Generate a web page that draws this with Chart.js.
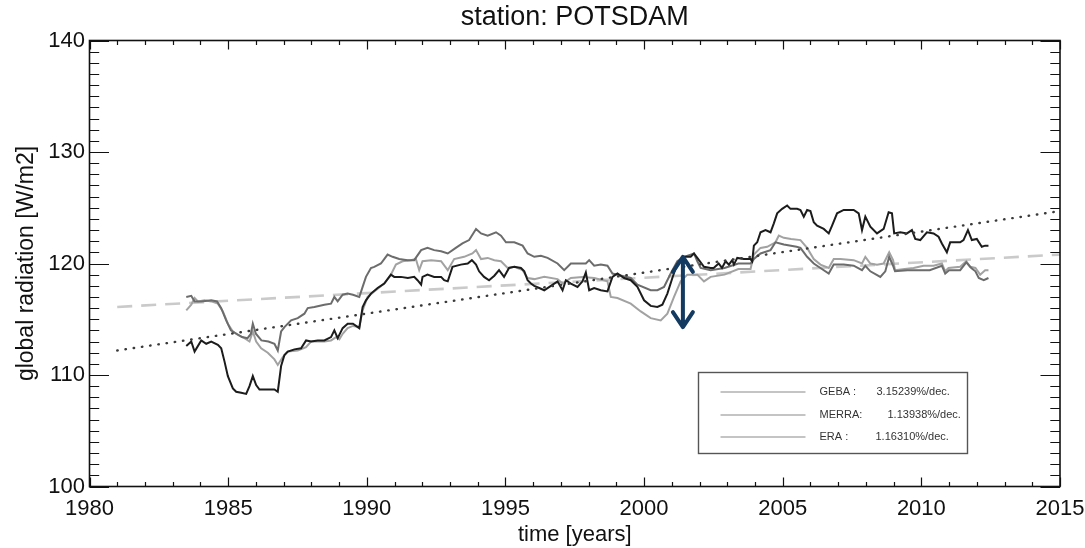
<!DOCTYPE html>
<html>
<head>
<meta charset="utf-8">
<script src="https://cdn.jsdelivr.net/npm/chart.js@4.4.1/dist/chart.umd.min.js"></script>
<style>
html,body{margin:0;padding:0;background:#fff;}
#wrap{width:1085px;height:548px;}
</style>
</head>
<body>
<div id="wrap"><canvas id="c" width="1085" height="548"></canvas></div>
<script>
// ---------------- DATA ----------------
const gebaYears = [1983.49,1983.67,1983.79,1984.03,1984.21,1984.39,1984.63,1984.75,1984.87,1984.99,1985.17,1985.29,1985.47,1985.65,1985.77,1985.89,1986.01,1986.13,1986.37,1986.67,1986.79,1986.91,1987.03,1987.15,1987.39,1987.63,1987.81,1987.99,1988.23,1988.47,1988.71,1988.83,1988.95,1989.13,1989.31,1989.5,1989.73,1989.85,1989.97,1990.15,1990.39,1990.63,1990.87,1990.99,1991.23,1991.48,1991.71,1991.83,1991.96,1992.01,1992.19,1992.43,1992.68,1992.79,1992.92,1993.09,1993.39,1993.64,1993.79,1993.94,1994.05,1994.23,1994.41,1994.6,1994.77,1994.95,1995.13,1995.32,1995.56,1995.68,1995.8,1995.92,1996.04,1996.22,1996.4,1996.64,1996.88,1997.06,1997.18,1997.36,1997.6,1997.78,1997.9,1998.02,1998.2,1998.44,1998.68,1998.86,1999.04,1999.28,1999.52,1999.76,2000.0,2000.24,2000.48,2000.66,2000.84,2001.02,2001.2,2001.44,2001.68,2001.8,2001.92,2002.16,2002.4,2002.51,2002.69,2002.81,2002.94,2003.06,2003.18,2003.24,2003.36,2003.6,2003.84,2003.9,2003.96,2004.08,2004.2,2004.38,2004.56,2004.68,2004.8,2004.98,2005.16,2005.28,2005.52,2005.64,2005.76,2005.88,2006.0,2006.12,2006.24,2006.48,2006.66,2006.78,2006.96,2007.2,2007.56,2007.74,2007.86,2007.98,2008.16,2008.4,2008.64,2008.82,2008.94,2009.02,2009.24,2009.48,2009.66,2009.78,2009.96,2010.2,2010.44,2010.62,2010.74,2010.92,2011.04,2011.4,2011.52,2011.68,2011.82,2012.0,2012.18,2012.3,2012.42];
const gebaValues = [112.6,113.0,112.1,113.1,112.8,113.0,112.7,112.4,111.2,109.9,108.8,108.5,108.4,108.3,109.0,109.9,109.1,108.7,108.7,108.7,108.5,110.8,111.8,112.1,112.3,112.4,113.1,113.0,113.1,113.1,113.4,114.0,113.3,114.2,114.6,114.6,114.2,116.1,116.7,117.3,117.8,118.2,119.0,118.8,118.8,118.7,118.8,118.5,118.1,118.8,119.0,118.8,118.8,118.5,118.4,119.7,119.9,120.0,120.3,119.9,119.3,118.8,118.5,118.9,119.4,118.8,119.6,119.7,119.6,119.3,118.5,118.2,118.0,117.8,117.6,118.0,118.4,117.6,118.5,118.2,117.9,118.4,119.2,117.6,117.8,117.6,117.5,118.8,119.1,118.7,118.5,117.9,116.7,116.2,116.1,116.3,117.3,118.7,120.0,120.6,120.6,120.9,120.5,119.7,119.6,119.6,120.0,119.6,120.2,119.9,120.3,119.9,120.5,120.4,120.4,120.2,121.6,121.9,122.8,123.0,122.8,123.6,124.5,124.9,125.2,124.9,124.9,124.8,124.2,124.8,124.7,123.7,123.4,123.1,122.7,123.4,124.5,124.8,124.8,124.5,123.0,124.2,123.3,122.7,123.1,124.6,124.5,122.7,122.8,122.7,123.0,122.2,122.1,122.8,122.7,122.4,121.8,121.0,121.9,121.9,122.1,123.0,122.1,122.2,121.5,121.6,121.6];

const merraYears = [1983.49,1983.67,1983.79,1984.03,1984.39,1984.6,1984.75,1984.93,1985.1,1985.3,1985.5,1985.7,1985.82,1985.89,1986.0,1986.2,1986.45,1986.67,1986.79,1986.91,1987.03,1987.27,1987.51,1987.75,1987.87,1988.11,1988.47,1988.71,1988.83,1988.95,1989.13,1989.31,1989.5,1989.73,1989.85,1989.97,1990.15,1990.27,1990.51,1990.75,1990.93,1991.17,1991.47,1991.71,1991.96,1992.19,1992.43,1992.68,1992.92,1993.21,1993.45,1993.69,1993.94,1994.12,1994.36,1994.66,1994.84,1995.02,1995.32,1995.62,1995.8,1996.04,1996.28,1996.52,1996.88,1997.12,1997.36,1997.6,1997.9,1998.02,1998.2,1998.44,1998.68,1998.86,1999.04,1999.52,1999.76,2000.24,2000.48,2000.72,2000.96,2001.2,2001.44,2001.68,2001.8,2001.92,2002.04,2002.4,2002.9,2003.4,2003.84,2003.96,2004.2,2004.56,2004.74,2005.04,2005.5,2005.64,2005.88,2006.12,2006.36,2006.66,2006.84,2007.2,2007.56,2007.86,2007.98,2008.16,2008.52,2008.7,2008.84,2008.98,2009.05,2009.5,2009.9,2010.3,2010.74,2010.86,2011.0,2011.4,2011.62,2011.8,2011.95,2012.07,2012.25,2012.42];
const merraValues = [117.0,117.1,116.6,116.6,116.7,116.6,116.0,114.9,114.0,113.7,113.4,113.3,113.7,114.6,113.7,113.1,113.0,112.8,112.2,113.9,114.3,114.9,115.1,115.5,116.0,116.1,116.3,116.4,117.0,116.6,117.2,117.3,117.2,117.0,117.9,118.8,119.6,119.7,120.0,120.8,120.6,120.4,120.3,120.3,121.2,121.4,121.2,121.1,120.9,121.4,121.8,122.1,123.1,122.7,122.5,122.8,122.5,121.9,121.9,121.6,120.9,120.6,120.7,120.5,120.0,119.4,120.0,120.0,120.0,120.3,119.8,119.9,119.8,119.1,119.0,118.7,118.1,117.6,117.6,117.9,119.1,120.2,120.6,120.8,120.9,120.2,119.6,119.4,119.6,120.0,120.0,120.4,120.9,121.2,121.9,121.7,121.5,121.4,120.6,120.0,119.6,119.1,119.9,119.9,119.8,119.4,119.8,119.3,118.8,119.3,120.6,119.8,119.3,119.4,119.4,119.4,119.8,119.1,119.4,119.4,120.1,119.6,119.3,118.7,118.5,118.7];

const eraYears = [1983.49,1983.67,1983.79,1983.91,1984.15,1984.39,1984.63,1984.81,1984.99,1985.17,1985.35,1985.59,1985.77,1985.89,1986.01,1986.19,1986.43,1986.67,1986.79,1986.97,1987.15,1987.51,1987.81,1987.99,1988.47,1988.71,1988.89,1989.01,1989.13,1989.31,1989.5,1989.73,1989.85,1990.03,1990.27,1990.63,1990.87,1991.05,1991.29,1991.59,1991.77,1991.89,1992.01,1992.32,1992.68,1992.92,1993.15,1993.51,1993.81,1993.94,1994.12,1994.36,1994.6,1994.84,1995.08,1995.32,1995.62,1995.8,1996.04,1996.4,1996.88,1997.06,1997.36,1997.78,1998.2,1998.68,1998.8,1999.04,1999.52,1999.88,2000.24,2000.6,2000.84,2001.08,2001.32,2001.56,2001.92,2002.16,2002.4,2002.9,2003.4,2003.84,2003.96,2004.2,2004.44,2004.74,2004.86,2005.04,2005.3,2005.64,2005.88,2006.12,2006.36,2006.66,2006.84,2007.08,2007.56,2007.86,2007.98,2008.16,2008.4,2008.64,2008.84,2008.98,2009.05,2009.4,2009.72,2010.08,2010.44,2010.74,2010.86,2010.98,2011.4,2011.62,2011.76,2011.95,2012.12,2012.3,2012.42];
const eraValues = [115.8,116.3,116.9,116.6,116.7,116.6,116.4,115.7,114.6,113.9,113.6,113.3,113.0,113.9,113.0,112.4,112.0,111.4,110.9,111.6,112.1,112.2,112.5,113.0,113.0,113.1,113.4,113.2,113.7,114.2,114.4,114.3,115.8,117.0,117.5,118.2,119.0,119.9,120.2,120.3,120.4,119.4,120.2,120.3,120.2,119.4,120.4,120.6,120.9,121.2,120.4,120.5,120.3,120.2,119.6,119.7,119.4,118.7,118.6,118.8,118.6,118.2,118.7,118.8,118.7,118.4,117.0,116.9,116.4,115.7,115.1,114.9,115.5,117.0,118.4,119.0,119.0,118.4,118.8,119.0,119.5,119.5,120.8,121.4,121.5,121.9,122.5,122.3,122.2,122.1,121.4,120.4,119.9,119.6,120.4,120.4,120.3,120.0,120.6,120.0,119.9,120.0,121.0,120.3,119.4,119.5,119.6,119.8,119.8,120.0,119.3,119.6,119.7,120.2,119.7,119.6,119.0,119.4,119.4];

const trendYears = [1981, 2015];
const gebaTrend = [112.2, 124.7];
const reanalysisTrend = [116.1, 120.8];

const legendNames = ['GEBA :', 'MERRA:', 'ERA :'];
const legendRates = ['3.15239%/dec.', '1.13938%/dec.', '1.16310%/dec.'];

const arrowYear = 2001.4;
const arrowTop = 120.6;
const arrowBottom = 114.3;

// ---------------- RENDER ----------------
const FONT = '"Liberation Sans", Arial, Helvetica, sans-serif';
const pts = (xs, ys) => xs.map((x, i) => ({x: x, y: ys[i]}));

const framePlugin = {
  id: 'frame',
  afterDraw(chart) {
    const {ctx, chartArea: a, scales: {x, y}} = chart;
    ctx.save();
    ctx.strokeStyle = '#111';
    ctx.lineWidth = 1.2;
    ctx.beginPath();
    for (let v = 1980; v <= 2015; v++) {
      const px = Math.round(x.getPixelForValue(v)) + 0.5;
      const len = v % 5 === 0 ? 9 : 4.5;
      ctx.moveTo(px, a.bottom); ctx.lineTo(px, a.bottom - len);
      ctx.moveTo(px, a.top); ctx.lineTo(px, a.top + len);
    }
    for (let v = 100; v <= 140; v++) {
      const py = Math.round(y.getPixelForValue(v)) + 0.5;
      const len = v % 10 === 0 ? 19.5 : 9.7;
      ctx.moveTo(a.left, py); ctx.lineTo(a.left + len, py);
      ctx.moveTo(a.right, py); ctx.lineTo(a.right - len, py);
    }
    ctx.stroke();
    ctx.lineWidth = 1.6;
    ctx.strokeRect(a.left, a.top, a.right - a.left, a.bottom - a.top);
    ctx.restore();
  }
};

const arrowPlugin = {
  id: 'arrow',
  afterDatasetsDraw(chart) {
    const {ctx, scales: {x, y}} = chart;
    const px = x.getPixelForValue(arrowYear);
    const pt = y.getPixelForValue(arrowTop);
    const pb = y.getPixelForValue(arrowBottom);
    ctx.save();
    ctx.strokeStyle = '#133a60';
    ctx.lineWidth = 4;
    ctx.lineCap = 'round';
    ctx.lineJoin = 'round';
    ctx.beginPath();
    ctx.moveTo(px, pt + 2); ctx.lineTo(px, pb - 2);
    ctx.moveTo(px - 10, pt + 15); ctx.lineTo(px, pt); ctx.lineTo(px + 10, pt + 15);
    ctx.moveTo(px - 10, pb - 15); ctx.lineTo(px, pb); ctx.lineTo(px + 10, pb - 15);
    ctx.stroke();
    ctx.restore();
  }
};

const legendBoxPlugin = {
  id: 'legendBox',
  afterDraw(chart) {
    const {ctx, chartArea: a} = chart;
    const bx = a.left + 609, by = a.top + 332, bw = 269, bh = 81;
    ctx.save();
    ctx.fillStyle = '#fff';
    ctx.fillRect(bx, by, bw, bh);
    ctx.strokeStyle = '#555';
    ctx.lineWidth = 1.4;
    ctx.strokeRect(bx, by, bw, bh);
    const rowY = [19, 42, 64];
    const rateX = [178, 189, 177];
    ctx.font = '11px ' + FONT;
    ctx.textBaseline = 'middle';
    ctx.fillStyle = '#333';
    for (let i = 0; i < 3; i++) {
      const yy = by + rowY[i];
      ctx.strokeStyle = '#8a8a8a';
      ctx.lineWidth = 1.1;
      ctx.beginPath();
      ctx.moveTo(bx + 22, yy + 0.5); ctx.lineTo(bx + 107, yy + 0.5);
      ctx.stroke();
      ctx.fillText(legendNames[i], bx + 121, yy);
      ctx.fillText(legendRates[i], bx + rateX[i], yy);
    }
    ctx.restore();
  }
};

new Chart(document.getElementById('c').getContext('2d'), {
  type: 'line',
  data: {
    datasets: [
      {label: 'GEBA', data: pts(gebaYears, gebaValues), borderColor: '#1c1c1c', borderWidth: 2, order: 1},
      {label: 'MERRA', data: pts(merraYears, merraValues), borderColor: '#6c6c6c', borderWidth: 2, order: 2},
      {label: 'ERA', data: pts(eraYears, eraValues), borderColor: '#a2a2a2', borderWidth: 2, order: 3},
      {label: 'GEBA trend', data: pts(trendYears, gebaTrend), borderColor: '#3a3a3a', borderWidth: 2.4, borderDash: [0.5, 7.8], borderCapStyle: 'round', order: 0},
      {label: 'reanalysis trend', data: pts(trendYears, reanalysisTrend), borderColor: '#cacaca', borderWidth: 2.6, borderDash: [15, 9], order: 4}
    ]
  },
  options: {
    responsive: false,
    animation: false,
    devicePixelRatio: 1,
    layout: {padding: {left: 0, right: 25, top: 0, bottom: 0}},
    elements: {point: {radius: 0}, line: {tension: 0, fill: false}},
    plugins: {
      legend: {display: false},
      tooltip: {enabled: false},
      title: {
        display: true, text: 'station: POTSDAM', fullSize: false,
        color: '#111', font: {family: FONT, size: 27, weight: 'normal'},
        padding: {top: 1, bottom: 7.1}
      }
    },
    scales: {
      x: {
        type: 'linear', min: 1980, max: 2015,
        ticks: {stepSize: 5, color: '#111', font: {family: FONT, size: 22}, padding: 9, maxRotation: 0, autoSkip: false, callback: v => String(v)},
        grid: {display: false, drawTicks: false},
        border: {display: false},
        title: {display: true, text: 'time [years]', color: '#111', font: {family: FONT, size: 22}, padding: {top: 0, bottom: 0}},
        afterFit(s) { s.height = 61.5; s.paddingLeft = 0; s.paddingRight = 0; }
      },
      y: {
        type: 'linear', min: 100, max: 140,
        ticks: {stepSize: 10, color: '#111', font: {family: FONT, size: 22}, padding: 4.5, callback: v => String(v)},
        grid: {display: false, drawTicks: false},
        border: {display: false},
        title: {display: true, text: 'global radiation [W/m2]', color: '#111', font: {family: FONT, size: 23}, padding: {top: 13, bottom: 0}},
        afterFit(s) { s.width = 89.5; s.paddingTop = 0; s.paddingBottom = 0; }
      }
    }
  },
  plugins: [framePlugin, arrowPlugin, legendBoxPlugin]
});
</script>
</body>
</html>
